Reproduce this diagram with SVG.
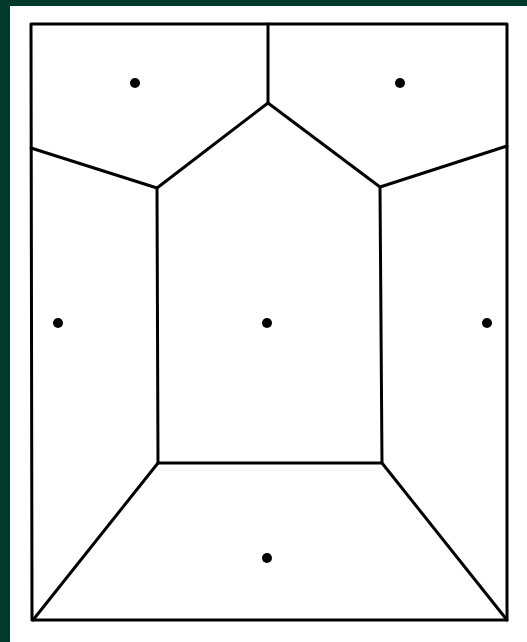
<svg xmlns="http://www.w3.org/2000/svg" width="527" height="642" viewBox="0 0 527 642">
<style>
.e{stroke:#000;stroke-width:3;fill:none;stroke-linecap:round;stroke-linejoin:round}
.s{fill:#000}
</style>
<rect x="0" y="0" width="527" height="642" fill="#003a2b"/>
<rect x="10" y="6" width="517" height="636" fill="#fff"/>
<g id="connectors">
<path class="e" d="M31,24 L507,24 L507,620 L32,620 Z"/>
<path class="e" d="M268,24 L268,103"/>
<path class="e" d="M268,103 L157,188 L158,463 L382,463 L380,187 Z"/>
<path class="e" d="M31,148 L157,188"/>
<path class="e" d="M380,187 L507,146"/>
<path class="e" d="M158,463 L33,620"/>
<path class="e" d="M382,463 L507,620"/>
</g>
<g id="site-top-left"><circle class="s" cx="135" cy="83" r="5"/></g>
<g id="site-top-right"><circle class="s" cx="400" cy="83" r="5"/></g>
<g id="site-left"><circle class="s" cx="58" cy="323" r="5"/></g>
<g id="site-center"><circle class="s" cx="267" cy="323" r="5"/></g>
<g id="site-right"><circle class="s" cx="487" cy="323" r="5"/></g>
<g id="site-bottom"><circle class="s" cx="267" cy="558" r="5"/></g>
</svg>
